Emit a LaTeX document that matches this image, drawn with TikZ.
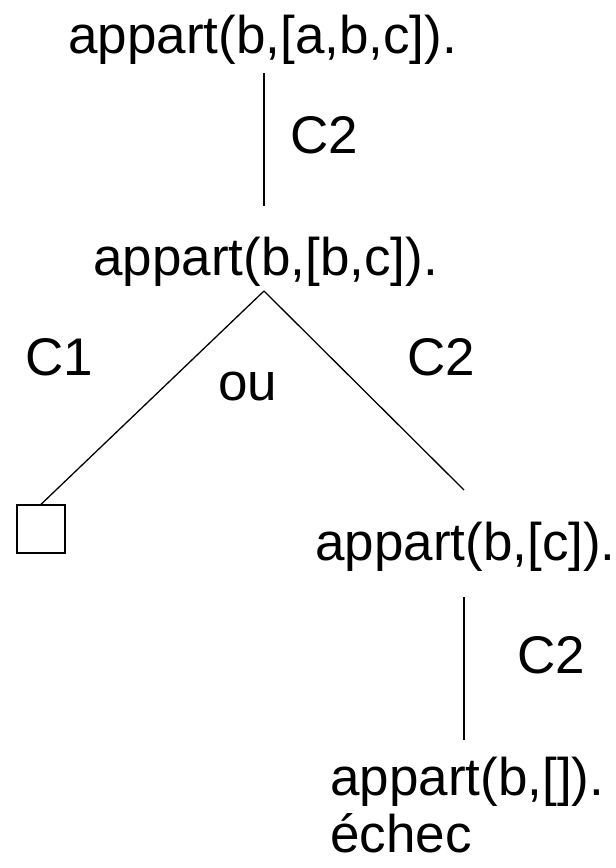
\documentclass[tikz,border=0pt]{standalone}
\usepackage{fontspec}
\setmainfont{Liberation Sans}
\begin{document}
\begin{tikzpicture}[x=1pt,y=-1pt,
  lbl/.style={inner sep=0pt,anchor=base west,font=\fontsize{53}{60}\selectfont},
  edge/.style={line width=1.3pt,black}]
\useasboundingbox (0,0) rectangle (616,868);
\node[lbl] (t1) at (68,53) {appart(b,[a,b,c]).};
\node[lbl] (c2a) at (290,153) {C2};
\node[lbl] (t2) at (93,275) {appart(b,[b,c]).};
\node[lbl] (c1) at (25,375) {C1};
\node[lbl] (ou) at (218,400) {ou};
\node[lbl] (c2b) at (407,375) {C2};
\node[draw,line width=1.3pt,minimum size=48pt,inner sep=0pt] (sq) at (41,529) {};
\node[lbl] (t3) at (315,560) {appart(b,[c]).};
\node[lbl] (c2c) at (517,673) {C2};
\node[lbl] (t4) at (330,795) {appart(b,[]).};
\node[lbl] (ech) at (330,852) {échec};
\coordinate (a1) at (264,73);
\coordinate (a2) at (264,206);
\coordinate (apex) at (264,291);
\coordinate (r1) at (464,490);
\coordinate (b1) at (464,597);
\coordinate (b2) at (464,740);
\draw[edge] (a1) -- (a2);
\draw[edge] (apex) -- (sq.north);
\draw[edge] (apex) -- (r1);
\draw[edge] (b1) -- (b2);
\end{tikzpicture}
\end{document}
